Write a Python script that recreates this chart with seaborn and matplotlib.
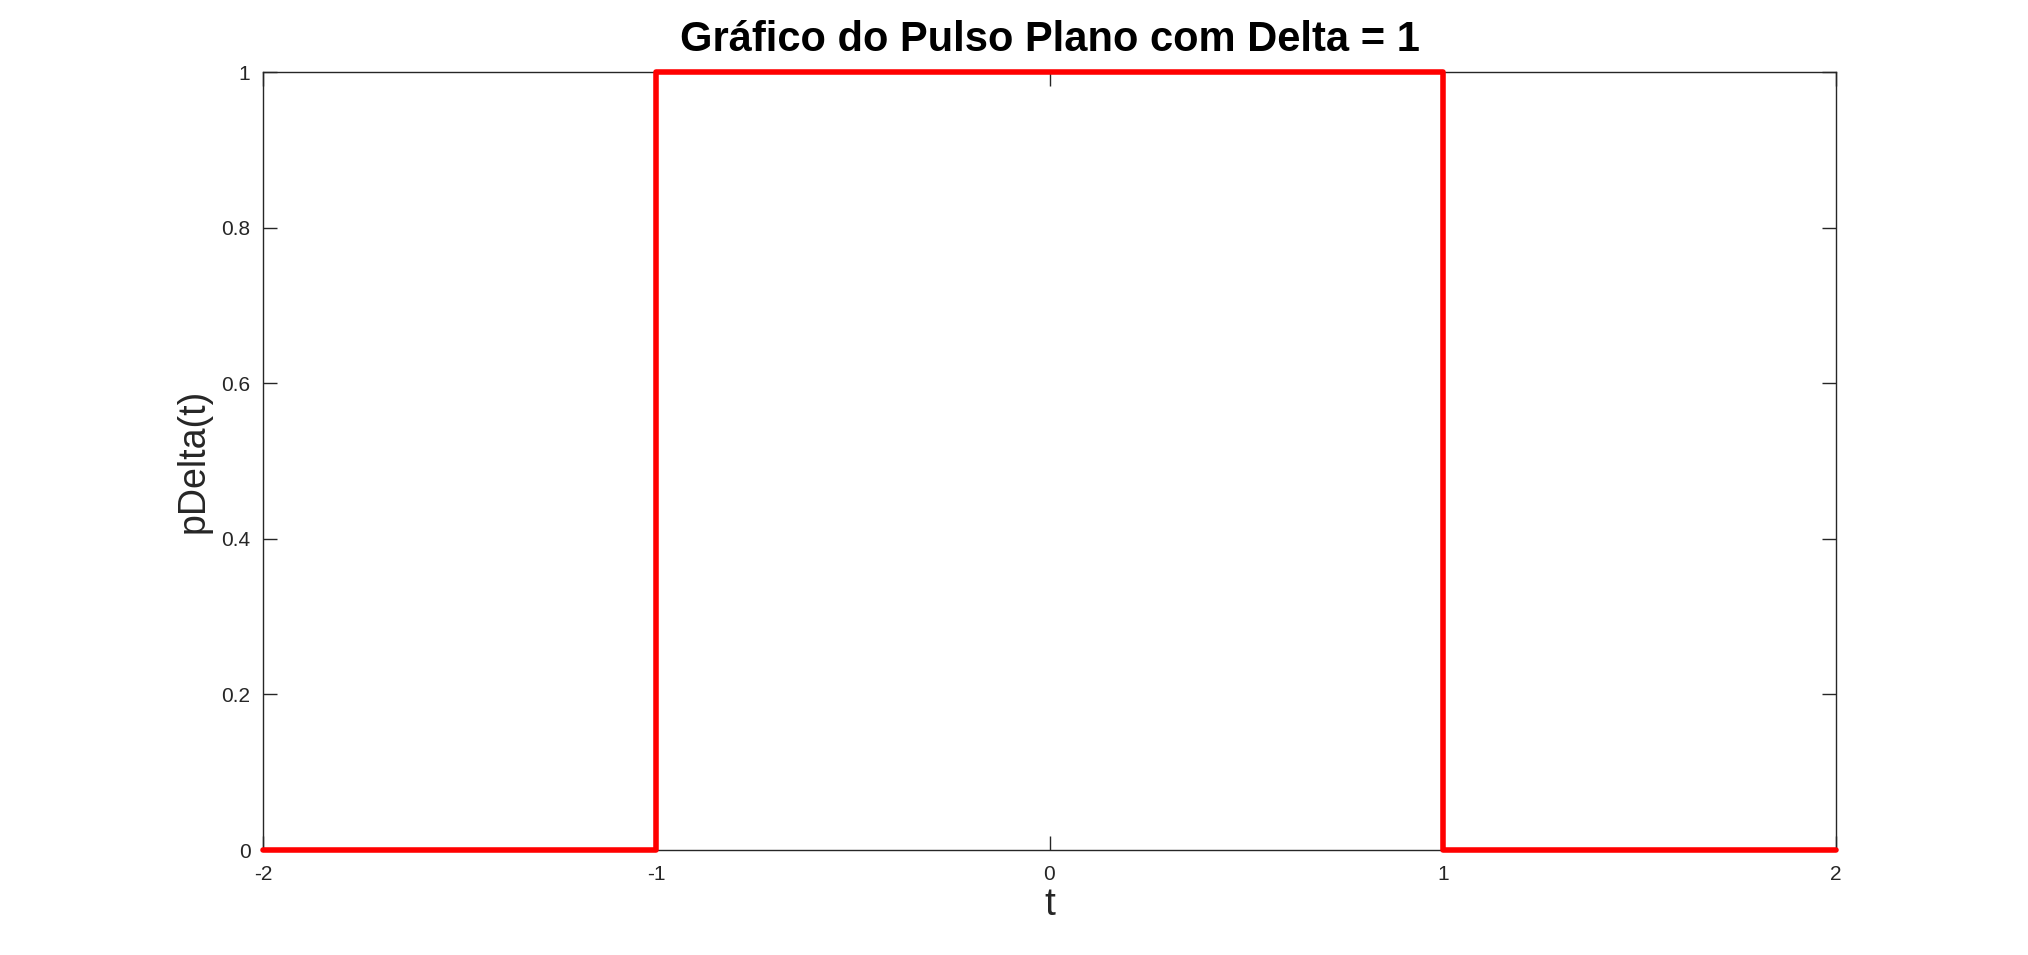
import matplotlib
matplotlib.use("Agg")
import matplotlib.pyplot as plt
import seaborn as sns
import pandas as pd

# Data: rectangular pulse with Delta = 1
t_values = [-2, -1, -1, 1, 1, 2]
p_values = [0, 0, 1, 1, 0, 0]
x_ticks = [-2, -1, 0, 1, 2]
y_ticks = [0, 0.2, 0.4, 0.6, 0.8, 1]
title_text = "Gráfico do Pulso Plano com Delta = 1"
x_label = "t"
y_label = "pDelta(t)"

sns.set_theme(style="white")
plt.rcParams['font.family'] = ['Liberation Sans', 'DejaVu Sans']

dark = '#262626'
fig = plt.figure(figsize=(20.28, 9.55), dpi=100)
ax = fig.add_axes([263/2028, 1 - 850/955, (1836-263)/2028, (850-72)/955])

df = pd.DataFrame({"t": t_values, "p": p_values})
sns.lineplot(data=df, x="t", y="p", sort=False, estimator=None, color="red",
             linewidth=4, ax=ax, clip_on=False, zorder=5)

ax.set_xlim(-2, 2)
ax.set_ylim(0, 1)
ax.set_xticks(x_ticks)
ax.set_xticklabels([f"{v:g}" for v in x_ticks])
ax.set_yticks(y_ticks)
ax.set_yticklabels([f"{v:g}" for v in y_ticks])

for s in ax.spines.values():
    s.set_visible(True)
    s.set_color(dark)
    s.set_linewidth(1.0)

ax.tick_params(axis='both', which='both', direction='in', length=10, width=1,
               colors=dark, labelsize=15, top=True, right=True,
               bottom=True, left=True)
ax.tick_params(axis='x', pad=11)
ax.tick_params(axis='y', pad=9)

ax.set_xlabel(x_label, fontsize=28, color=dark, labelpad=2)
ax.set_ylabel(y_label, fontsize=27, color=dark, labelpad=7)
ax.set_title(title_text, fontsize=30, fontweight='bold', color='black', pad=15)

fig.savefig("out.png", dpi=100, facecolor='white')
